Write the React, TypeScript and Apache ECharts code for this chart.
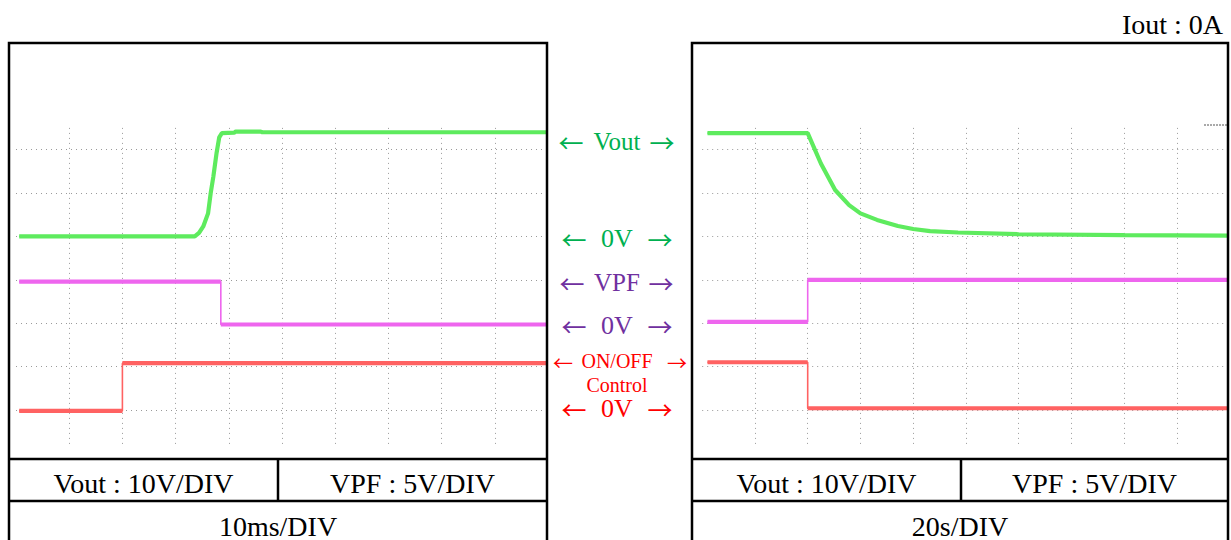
import React, { useEffect, useRef } from 'react';
import * as echarts from 'echarts';

// ---------------- data ----------------
// Left panel: 10 ms/DIV, time in ms, volts per channel
const leftVout: [number, number][] = [
  [0.6, 0], [33.6, 0], [34.4, 0.8], [35.2, 2.3], [36.1, 5.3], [36.6, 10], [37.1, 13.8],
  [37.7, 19.2], [38.2, 22.8], [38.7, 23.8], [41.0, 23.9], [41.3, 24.15], [46.0, 24.15],
  [46.3, 24.0], [99.7, 24.0],
];
const leftVpf: [number, number][] = [[0.6, 4.8], [38.5, 4.8], [38.5, -0.15], [99.7, -0.15]];
const leftCtrl: [number, number][] = [[0.6, -0.1], [20.0, -0.1], [20.0, 5.4], [99.7, 5.4]];

// Right panel: 20 s/DIV, time in s
const rightVout: [number, number][] = [
  [2, 23.8], [40, 23.8], [45, 16.8], [50.4, 10.7], [55.7, 7.2], [60, 5.3], [66.3, 3.8],
  [74.2, 2.4], [80, 1.7], [86.4, 1.2], [97, 0.9], [120, 0.5], [160, 0.3], [199.6, 0.2],
];
const rightVpf: [number, number][] = [[2, 0.15], [40, 0.15], [40, 5.0], [199.6, 5.0]];
const rightCtrl: [number, number][] = [[2, 5.5], [40, 5.5], [40, 0.2], [199.6, 0.2]];

// time spans (10 divisions)
const leftTimeSpan = 100;
const leftTimeDiv = 10;
const rightTimeSpan = 200;
const rightTimeDiv = 20;

// channel settings: zero position in divisions, volts per division
const voutZeroDiv = 4;
const voutPerDiv = 10;
const vpfZeroDiv = 2;
const vpfPerDiv = 5;
const ctrlZeroDiv = 0;
const ctrlPerDiv = 5;

// texts
const voutScaleText = 'Vout : 10V/DIV';
const vpfScaleText = 'VPF : 5V/DIV';
const leftTimeText = '10ms/DIV';
const rightTimeText = '20s/DIV';
const ioutText = 'Iout : 0A';

// ---------------- layout ----------------
const SERIF = '"Liberation Serif", "Times New Roman", Times, serif';
const ARROW_FONT = '"Noto Sans CJK JP", "Noto Sans CJK SC", sans-serif';
const DIV_TOP = 6.5;
const DIV_BOTTOM = -0.8;
const PX_PER_DIV = 43.4;
const ZERO_Y = 410;
const GRID_TOP = ZERO_Y - DIV_TOP * PX_PER_DIV;
const GRID_H = (DIV_TOP - DIV_BOTTOM) * PX_PER_DIV;

const C_GREEN = '#5EEB5E';
const C_PINK = '#EE66EE';
const C_RED = '#FF6262';
const L_GREEN = '#00B050';
const L_PURPLE = '#7030A0';
const L_RED = '#FF0000';

function breakSteps(d: [number, number][]) {
  const out: any[] = [];
  d.forEach((p, i) => {
    out.push(p);
    const n = d[i + 1];
    if (n && n[0] === p[0]) out.push([p[0], '-']);
  });
  return out;
}

function buildOption() {
  const channels = [
    { zero: voutZeroDiv, vpd: voutPerDiv },
    { zero: vpfZeroDiv, vpd: vpfPerDiv },
    { zero: ctrlZeroDiv, vpd: ctrlPerDiv },
  ];
  const yAxis: any[] = [];
  [0, 1].forEach((g) => {
    channels.forEach((c) => {
      yAxis.push({
        type: 'value',
        gridIndex: g,
        min: (DIV_BOTTOM - c.zero) * c.vpd,
        max: (DIV_TOP - c.zero) * c.vpd,
        show: false,
        splitLine: { show: false },
      });
    });
  });
  const gridLineStyle = { color: '#9a9a9a', type: [1, 4], width: 1 };
  const xAxis: any[] = [
    { span: leftTimeSpan, iv: leftTimeDiv },
    { span: rightTimeSpan, iv: rightTimeDiv },
  ].map((a, g) => ({
    type: 'value',
    gridIndex: g,
    min: 0,
    max: a.span,
    interval: a.iv,
    axisLine: { show: false },
    axisTick: { show: false },
    axisLabel: { show: false },
    splitLine: { show: true, showMinLine: false, showMaxLine: false, lineStyle: gridLineStyle },
  }));

  const hLines: any[] = [];
  for (let k = 0; k <= 6; k++) hLines.push({ yAxis: (k - voutZeroDiv) * voutPerDiv });

  const panels = [
    [leftVout, leftVpf, leftCtrl],
    [rightVout, rightVpf, rightCtrl],
  ];
  const colors = [C_GREEN, C_PINK, C_RED];
  const series: any[] = [];
  panels.forEach((chs, g) => {
    chs.forEach((d, c) => {
      series.push({
        type: 'line',
        xAxisIndex: g,
        yAxisIndex: g * 3 + c,
        data: d,
        symbol: 'none',
        silent: true,
        z: 3,
        lineStyle: { color: colors[c], width: 1.6 },
        ...(c === 0
          ? {
              markLine: {
                silent: true,
                symbol: 'none',
                z: 1,
                label: { show: false },
                lineStyle: gridLineStyle,
                data: hLines,
              },
            }
          : {}),
      });
      series.push({
        type: 'line',
        xAxisIndex: g,
        yAxisIndex: g * 3 + c,
        data: breakSteps(d),
        symbol: 'none',
        silent: true,
        connectNulls: false,
        z: 3,
        lineStyle: { color: colors[c], width: 4.2 },
      });
    });
  });

  const black = '#000';
  const frame = (x0: number, x1: number, xd: number) => [
    {
      type: 'rect',
      z: 100,
      shape: { x: x0, y: 43, width: x1 - x0, height: 530 },
      style: { fill: 'none', stroke: black, lineWidth: 2.5 },
    },
    { type: 'line', z: 100, shape: { x1: x0, y1: 459, x2: x1, y2: 459 }, style: { stroke: black, lineWidth: 2.5 } },
    { type: 'line', z: 100, shape: { x1: x0, y1: 501, x2: x1, y2: 501 }, style: { stroke: black, lineWidth: 2.5 } },
    { type: 'line', z: 100, shape: { x1: xd, y1: 459, x2: xd, y2: 501 }, style: { stroke: black, lineWidth: 2.5 } },
  ];
  const txt = (
    text: string,
    x: number,
    y: number,
    size: number,
    fill: string,
    align = 'center',
    family = SERIF,
  ) => ({
    type: 'text',
    z: 100,
    x,
    y,
    style: {
      text,
      fill,
      fontSize: size,
      fontFamily: family,
      textAlign: align,
      textVerticalAlign: 'middle',
      align,
      verticalAlign: 'middle',
    },
  });

  const midLabels = [
    { word: 'Vout', y: 141, color: L_GREEN, size: 25, la: 571, ra: 662 },
    { word: '0V', y: 238, color: L_GREEN, size: 26, la: 574, ra: 660 },
    { word: 'VPF', y: 282, color: L_PURPLE, size: 25, la: 572, ra: 661 },
    { word: '0V', y: 325, color: L_PURPLE, size: 26, la: 574, ra: 660 },
    { word: 'ON/OFF', y: 361, color: L_RED, size: 20, la: 563, ra: 677 },
    { word: '0V', y: 408, color: L_RED, size: 26, la: 574, ra: 660 },
  ];
  const mid: any[] = [];
  midLabels.forEach((m) => {
    mid.push(txt(m.word, 617, m.y, m.size, m.color));
    const as = m.size >= 24 ? 25 : 20;
    mid.push(txt('←', m.la, m.y + 1, as, m.color, 'center', ARROW_FONT));
    mid.push(txt('→', m.ra, m.y + 1, as, m.color, 'center', ARROW_FONT));
  });
  mid.push(txt('Control', 617, 385, 20, L_RED));

  const graphic: any[] = [
    ...frame(9, 547, 278),
    ...frame(692, 1228, 961),
    txt(voutScaleText, 143.5, 483, 28, black),
    txt(vpfScaleText, 412.5, 483, 28, black),
    txt(leftTimeText, 278, 526, 28, black),
    txt(voutScaleText, 826.5, 483, 28, black),
    txt(vpfScaleText, 1094.5, 483, 28, black),
    txt(rightTimeText, 960, 526, 28, black),
    txt(ioutText, 1223, 24, 28, black, 'right'),
    {
      type: 'line',
      z: 50,
      shape: { x1: 1204, y1: 125, x2: 1227, y2: 125 },
      style: { stroke: '#555', lineWidth: 1, lineDash: [2, 1] },
    },
    ...mid,
  ];

  return {
    animation: false,
    backgroundColor: '#fff',
    grid: [
      { left: 16, top: GRID_TOP, width: 532, height: GRID_H },
      { left: 702.2, top: GRID_TOP, width: 527.5, height: GRID_H },
    ],
    xAxis,
    yAxis,
    series,
    graphic,
  };
}

export default function App() {
  const ref = useRef<HTMLDivElement>(null);
  useEffect(() => {
    document.body.style.margin = '0';
    const chart = echarts.init(ref.current!, null, { renderer: 'svg' });
    chart.setOption(buildOption() as any);
    return () => chart.dispose();
  }, []);
  return <div ref={ref} style={{ width: 1231, height: 540 }} />;
}
